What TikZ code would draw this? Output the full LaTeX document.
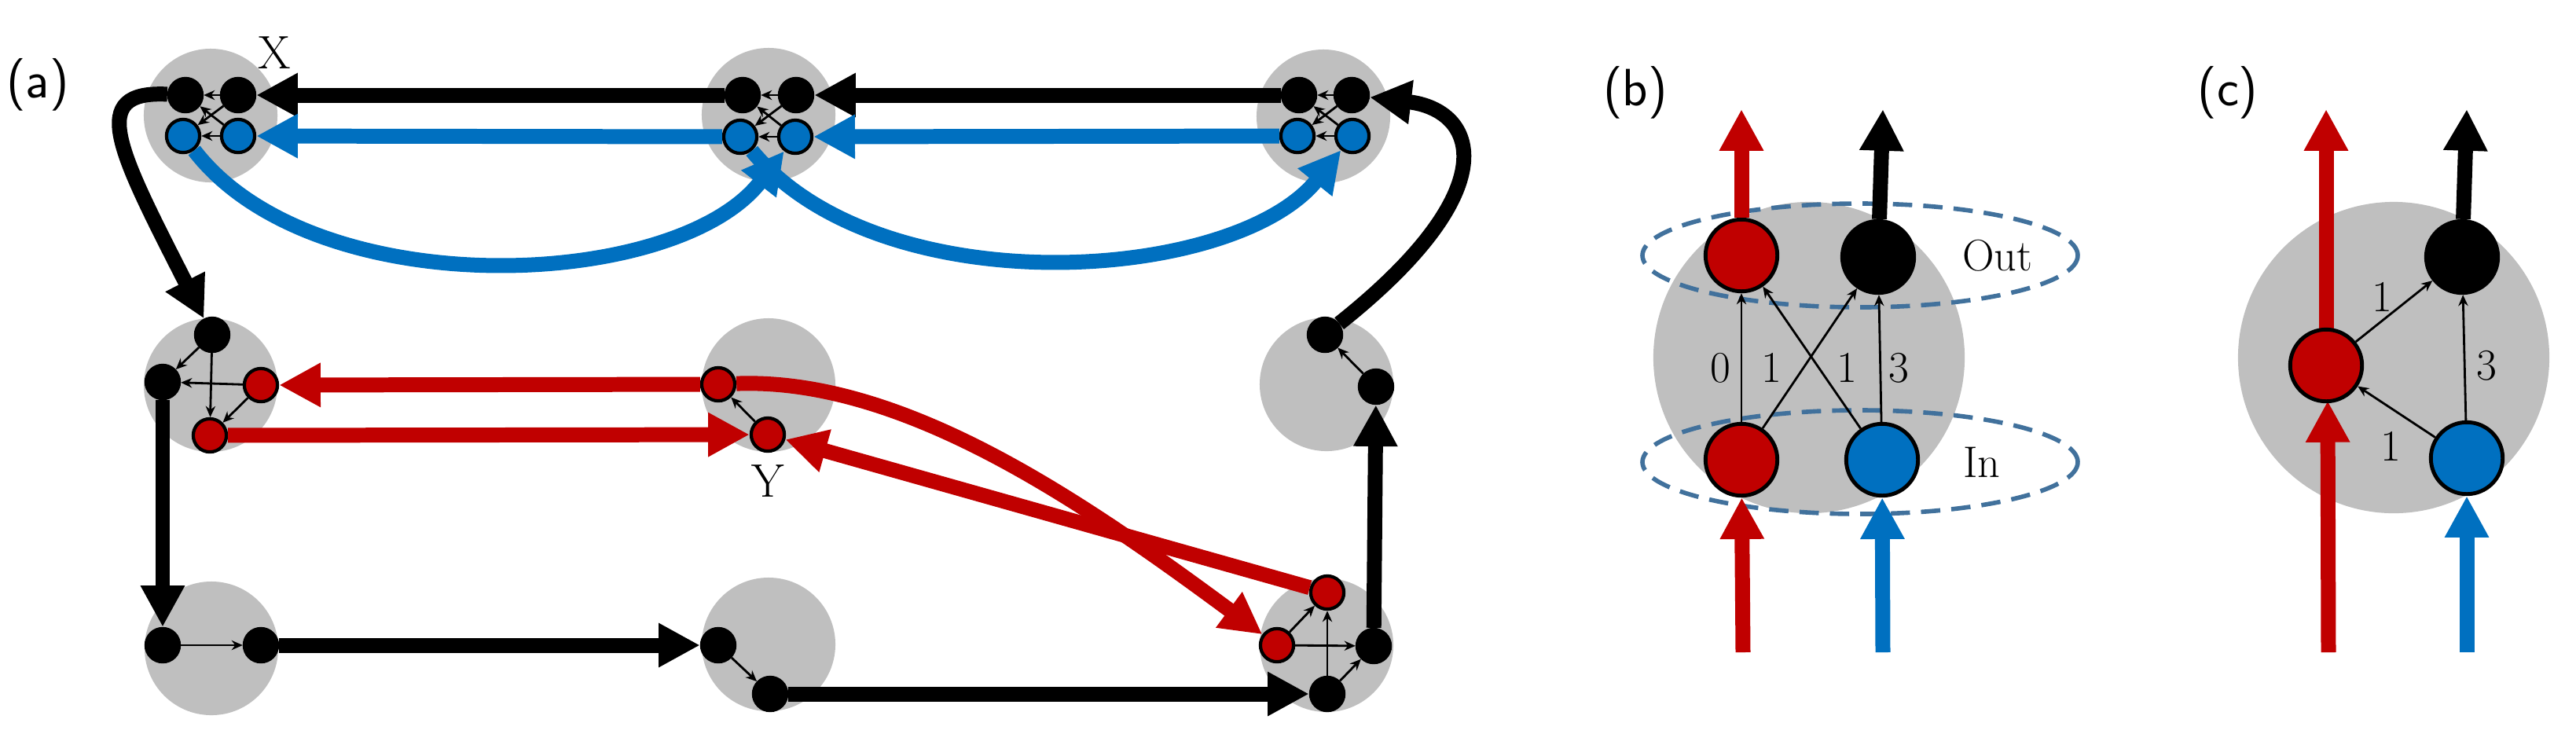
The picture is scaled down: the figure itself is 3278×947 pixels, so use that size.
\documentclass[tikz,border=0pt]{standalone}
\usepackage{tikz}
\usetikzlibrary{arrows.meta}
\usepackage{xcolor}
\definecolor{myred}{HTML}{C00000}
\definecolor{myblue}{HTML}{0070C0}
\definecolor{mygray}{HTML}{BFBFBF}
\definecolor{mydash}{HTML}{41719C}

\begin{document}
\begin{tikzpicture}[x=0.01cm,y=-0.01cm,
  blob/.style={circle,fill=mygray,minimum size=#1*0.2845pt,inner sep=0pt},
  dot/.style={circle,draw,line width=1.2pt,fill=#1,minimum size=12pt,inner sep=0pt},
  big/.style={circle,draw,line width=1.4pt,fill=#1,minimum size=26pt,inner sep=0pt},
  fat/.style={line width=5.4pt,-{Triangle[length=15pt,width=15pt]}},
  thin/.style={line width=0.8pt,-{Stealth[length=4pt,width=3.5pt]}},
  lab/.style={font=\fontsize{17}{17}\selectfont},
  num/.style={font=\fontsize{16}{16}\selectfont},
  panel/.style={font=\sffamily\fontsize{19}{19}\selectfont}]
\useasboundingbox (0,0) rectangle (3278,947);
% (a)
\node [panel] (pa) at (48,108) {(a)};
\node [blob=170] (g1) at (268,147) {};
\node [blob=170] (g2) at (978,146) {};
\node [blob=170] (g3) at (1684,148) {};
\node [blob=170] (g4) at (268,490) {};
\node [blob=170] (g5) at (978,490) {};
\node [blob=170] (g6) at (1688,489) {};
\node [blob=170] (g7) at (269,825) {};
\node [blob=170] (g8) at (978,820) {};
\node [blob=170] (g9) at (1688,821) {};
% top row
\node [dot=black] (tlk1) at (236,121) {};
\node [dot=black] (tlk2) at (303,121) {};
\node [dot=myblue] (tlb1) at (233,173) {};
\node [dot=myblue] (tlb2) at (303,173) {};
\node [dot=black] (tmk1) at (945,121) {};
\node [dot=black] (tmk2) at (1013,121) {};
\node [dot=myblue] (tmb1) at (942,174) {};
\node [dot=myblue] (tmb2) at (1012,174) {};
\node [dot=black] (trk1) at (1653,121) {};
\node [dot=black] (trk2) at (1720,121) {};
\node [dot=myblue] (trb1) at (1651,173) {};
\node [dot=myblue] (trb2) at (1721,173) {};
\node [lab] (xl) at (349,67) {X};
% middle row
\node [dot=black] (lmk1) at (270,426) {};
\node [dot=black] (lmk2) at (207,486) {};
\node [dot=myred] (lmr1) at (332,490) {};
\node [dot=myred] (lmr2) at (267,554) {};
\node [dot=myred] (mr1) at (914,489) {};
\node [dot=myred] (mr2) at (977,553) {};
\node [lab] (yl) at (977,612) {Y};
\node [dot=black] (rmk1) at (1686,426) {};
\node [dot=black] (rmk2) at (1751,492) {};
% bottom row
\node [dot=black] (blk1) at (207,821) {};
\node [dot=black] (blk2) at (332,821) {};
\node [dot=black] (bmk1) at (914,821) {};
\node [dot=black] (bmk2) at (980,883) {};
\node [dot=myred] (brr1) at (1625,821) {};
\node [dot=myred] (brr2) at (1689,754) {};
\node [dot=black] (brk1) at (1748,822) {};
\node [dot=black] (brk2) at (1689,883) {};
% small arrows inside
\foreach \a/\b in {tlk2/tlk1,tlb2/tlb1,tlk2/tlb1,tlb2/tlk1,
  tmk2/tmk1,tmb2/tmb1,tmk2/tmb1,tmb2/tmk1,
  trk2/trk1,trb2/trb1,trk2/trb1,trb2/trk1,
  lmk1/lmk2,lmk1/lmr2,lmr1/lmk2,lmr1/lmr2,mr2/mr1,rmk2/rmk1,
  blk1/blk2,bmk1/bmk2,brr1/brr2,brr1/brk1,brk2/brr2,brk2/brk1}
  \draw [thin] (\a) -- (\b);
% big arrows
\draw [fat] (tmk1) -- (tlk2);
\draw [fat] (trk1) -- (tmk2);
\draw [fat,myblue] (tmb1) -- (tlb2);
\draw [fat,myblue] (trb1) -- (tmb2);
\draw [fat,myblue] (tlb1) .. controls (400,390) and (860,370) .. (tmb2);
\draw [fat,myblue] (tmb1) .. controls (1120,390) and (1570,360) .. (trb2);
\draw [fat] (tlk1) .. controls (110,115) and (150,190) .. (lmk1);
\draw [fat] (rmk1) .. controls (1920,240) and (1880,140) .. (trk2);
\draw [fat,myred] (mr1) -- (lmr1);
\draw [fat,myred] (lmr2) -- (mr2);
\draw [fat,myred] (mr1) .. controls (1150,480) and (1380,640) .. (brr1);
\draw [fat,myred] (brr2) -- (mr2);
\draw [fat] (lmk2) -- (blk1);
\draw [fat] (blk2) -- (bmk1);
\draw [fat] (bmk2) -- (brk2);
\draw [fat] (brk1) -- (rmk2);
% (b)
\node [panel] (pb) at (2081,118) {(b)};
\node [blob=396] (gb) at (2302,455) {};
\draw [mydash,line width=1.6pt,dash pattern=on 7pt off 4pt] (2367,325) ellipse [x radius=277,y radius=66];
\draw [mydash,line width=1.6pt,dash pattern=on 7pt off 4pt] (2367,588) ellipse [x radius=277,y radius=66];
\node [big=myred] (bro) at (2216,325) {};
\node [big=black] (bko) at (2390,327) {};
\node [big=myred] (bri) at (2216,585) {};
\node [big=myblue] (bbi) at (2395,585) {};
\node [num] (outl) at (2542,325) {Out};
\node [num] (inl) at (2522,588) {In};
\coordinate (b1) at (2218,830);
\coordinate (b2) at (2396,830);
\coordinate (b3) at (2216,139);
\coordinate (b4) at (2396,139);
\draw [fat,myred] (b1) -- (bri);
\draw [fat,myblue] (b2) -- (bbi);
\draw [fat,myred] (bro) -- (b3);
\draw [fat] (bko) -- (b4);
\draw [thin] (bri) -- (bro);
\draw [thin] (bri) -- (bko);
\draw [thin] (bbi) -- (bro);
\draw [thin] (bbi) -- (bko);
\node [num] (w0) at (2189,468) {0};
\node [num] (w1) at (2254,468) {1};
\node [num] (w2) at (2350,468) {1};
\node [num] (w3) at (2416,468) {3};
% (c)
\node [panel] (pc) at (2835,118) {(c)};
\node [blob=396] (gc) at (3046,455) {};
\coordinate (c1) at (2963,830);
\coordinate (c2) at (3139,830);
\coordinate (c3) at (2960,139);
\coordinate (c4) at (3139,139);
\draw [fat,myred] (c1) -- (2962,510);
\draw [fat,myred] (2960,420) -- (c3);
\node [big=myred] (cr) at (2960,465) {};
\node [big=black] (ck) at (3133,327) {};
\node [big=myblue] (cb) at (3139,583) {};
\draw [fat,myblue] (c2) -- (cb);
\draw [fat] (ck) -- (c4);
\draw [thin] (cr) -- (ck);
\draw [thin] (cb) -- (cr);
\draw [thin] (cb) -- (ck);
\node [num] (v1) at (3031,378) {1};
\node [num] (v2) at (3042,568) {1};
\node [num] (v3) at (3164,465) {3};
\end{tikzpicture}
\end{document}
